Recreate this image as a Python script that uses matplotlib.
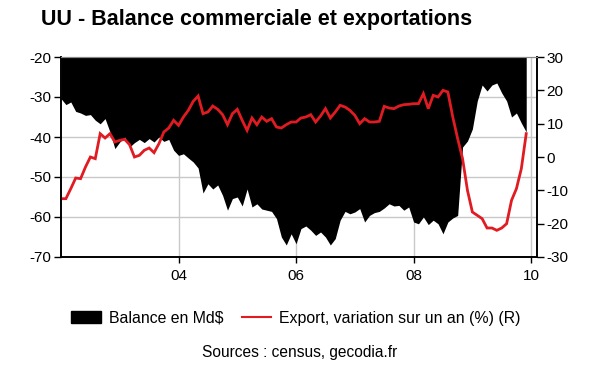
import numpy as np
import matplotlib
matplotlib.use("Agg")
import matplotlib.pyplot as plt
from matplotlib.patches import Patch
from matplotlib.lines import Line2D

plt.rcParams['font.family'] = ['Liberation Sans', 'DejaVu Sans']

# ---- data (monthly, Jan 2002 .. Dec 2009) ----
start_year = 2002
balance = [
    -30.4, -31.9, -31.25, -33.6, -34.0, -34.6, -34.4, -35.8, -36.7, -35.4, -38.75, -42.9,   # 2002
    -41.25, -40.0, -42.5, -41.4, -40.6, -41.4, -40.4, -41.25, -40.0, -41.1, -40.6, -43.3,   # 2003
    -44.6, -44.2, -45.25, -46.25, -47.75, -54.0, -51.7, -53.0, -52.0, -54.6, -58.3, -55.4,  # 2004
    -55.0, -57.25, -53.0, -57.5, -56.7, -58.0, -58.3, -58.6, -60.4, -65.0, -67.0, -64.2,    # 2005
    -66.7, -62.9, -62.25, -63.3, -64.6, -63.75, -65.0, -67.0, -65.4, -60.8, -58.6, -59.2,   # 2006
    -58.75, -57.9, -61.25, -59.6, -58.9, -58.6, -57.75, -56.7, -57.25, -57.1, -58.3, -57.5, # 2007
    -61.25, -61.7, -60.0, -61.9, -60.8, -61.7, -64.2, -61.25, -60.25, -59.6, -42.5, -41.0,  # 2008
    -38.0, -31.0, -27.0, -28.5, -27.0, -26.5, -29.0, -31.0, -35.0, -34.0, -36.5, -38.75,    # 2009
]
export_yoy = [
    -12.5, -12.5, -9.5, -6.3, -6.5, -3.0, 0.0, -0.5, 7.0, 5.7, 7.0, 4.5,        # 2002
    5.0, 5.3, 3.7, 0.0, 0.5, 2.0, 2.7, 1.3, 4.0, 7.5, 8.7, 11.0,                # 2003
    9.5, 12.0, 14.0, 16.7, 18.3, 13.0, 13.5, 15.3, 14.3, 12.7, 9.7, 13.0,       # 2004
    14.3, 11.0, 8.0, 11.7, 9.7, 12.0, 10.7, 11.5, 9.0, 8.7, 9.7, 10.5,          # 2005
    10.5, 11.7, 12.0, 12.7, 10.5, 12.3, 14.5, 11.7, 13.5, 15.5, 15.0, 14.0,     # 2006
    12.5, 10.0, 11.5, 10.5, 10.5, 10.7, 15.2, 14.7, 14.5, 15.3, 15.7, 15.8,     # 2007
    16.0, 16.0, 19.0, 14.5, 18.5, 18.0, 20.0, 19.5, 12.0, 5.5, -0.5, -10.0,     # 2008
    -16.5, -17.5, -18.5, -21.3, -21.3, -22.0, -21.3, -20.0, -13.0, -9.5, -3.5, 7.0,  # 2009
]
xtick_years = [2004, 2006, 2008, 2010]
xtick_labels = ['04', '06', '08', '10']
left_ticks = [-20, -30, -40, -50, -60, -70]
right_ticks = [30, 20, 10, 0, -10, -20, -30]

t = start_year + np.arange(len(balance)) / 12.0

fig = plt.figure(figsize=(6.0, 3.72), dpi=100)
ax = fig.add_axes([61/600, 1-257/372, (537-61)/600, 200/372])
ax2 = ax.twinx()

RED = '#e01b22'
GRID = '#c8c8c8'

ax.set_axisbelow(True)
ax.fill_between(t, balance, -20, color='black', linewidth=0, zorder=2)
ax.set_ylim(-70, -20)
ax.set_xlim(2002.0, 2010.1)
ax.set_yticks(left_ticks)
ax.set_yticklabels([str(v) for v in left_ticks])
ax.set_xticks(xtick_years)
ax.set_xticklabels(xtick_labels)
for v in [-30, -40, -50, -60]:
    ax.axhline(v, color=GRID, lw=1.0, zorder=1)
for v in xtick_years:
    ax.axvline(v, color=GRID, lw=1.0, zorder=1)

ax2.plot(t, export_yoy, color=RED, lw=2.0, solid_joinstyle='miter')
ax2.set_ylim(-30, 30)
ax2.set_yticks(right_ticks)
ax2.set_yticklabels([str(v) for v in right_ticks])

for a in (ax, ax2):
    for s in ['left', 'right', 'bottom']:
        a.spines[s].set_linewidth(1.2)
        a.spines[s].set_color('black')
    a.spines['top'].set_color('#888888')
    a.spines['top'].set_linewidth(0.8)
    a.tick_params(axis='both', direction='out', length=5, width=1.0,
                  labelsize=11, colors='black', pad=2)
ax.tick_params(axis='x', length=4, pad=4.5)

fig.text(41/600, 1-19/372, 'UU - Balance commerciale et exportations',
         fontsize=15.5, fontweight='bold', va='center', ha='left')

handles = [Patch(facecolor='black', edgecolor='black'),
           Line2D([0], [0], color=RED, lw=1.5)]
fig.legend(handles, ['Balance en Md$', 'Export, variation sur un an (%) (R)'],
           loc='center', bbox_to_anchor=(296/600, 1-318/372), ncol=2,
           frameon=False, fontsize=11.4, handlelength=1.85, handleheight=0.7,
           columnspacing=1.2, handletextpad=0.5)

fig.text(300/600, 1-352/372, 'Sources : census, gecodia.fr',
         fontsize=11.2, ha='center', va='center')

fig.savefig('out.png', dpi=100)
